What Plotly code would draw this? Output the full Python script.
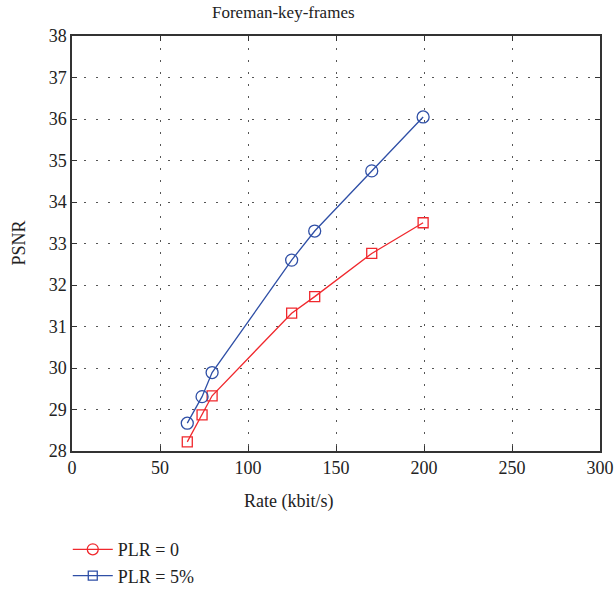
import plotly.graph_objects as go

# Rate-distortion data for the Foreman key frames
rate_plr0 = [65.5, 73.9, 79.6, 124.8, 137.9, 170.3, 199.5]
psnr_plr0 = [28.22, 28.87, 29.33, 31.32, 31.72, 32.76, 33.50]

rate_plr5 = [65.5, 73.9, 79.6, 124.8, 137.9, 170.3, 199.5]
psnr_plr5 = [28.67, 29.31, 29.89, 32.60, 33.30, 34.75, 36.05]

x_ticks = [0, 50, 100, 150, 200, 250, 300]
y_ticks = [28, 29, 30, 31, 32, 33, 34, 35, 36, 37, 38]

RED = "#f0282d"
BLUE = "#2f4fa6"
FONT = "Tinos, 'Times New Roman', 'Liberation Serif', 'Noto Serif', 'DejaVu Serif', serif"

fig = go.Figure()

fig.add_trace(go.Scatter(
    x=rate_plr0, y=psnr_plr0, mode="lines+markers", showlegend=False,
    line=dict(color=RED, width=1.3),
    marker=dict(symbol="square-open", size=10, color=RED, line=dict(width=1.3)),
))
fig.add_trace(go.Scatter(
    x=rate_plr5, y=psnr_plr5, mode="lines+markers", showlegend=False,
    line=dict(color=BLUE, width=1.3),
    marker=dict(symbol="circle-open", size=12, color=BLUE, line=dict(width=1.3)),
))

# Legend keys
fig.add_trace(go.Scatter(
    x=[None], y=[None], mode="lines+markers", name="PLR = 0",
    line=dict(color=RED, width=1.3),
    marker=dict(symbol="circle-open", size=11, color=RED, line=dict(width=1.3)),
))
fig.add_trace(go.Scatter(
    x=[None], y=[None], mode="lines+markers", name="PLR = 5%",
    line=dict(color=BLUE, width=1.3),
    marker=dict(symbol="square-open", size=9, color=BLUE, line=dict(width=1.3)),
))

axis_common = dict(
    showline=True, linecolor="#333333", linewidth=1.5, mirror="ticks",
    ticks="inside", ticklen=5, tickcolor="#333333", tickwidth=1,
    showgrid=True, gridcolor="#555555", gridwidth=1, griddash="2px,10px",
    zeroline=False,
    tickfont=dict(family=FONT, size=18, color="#222222"),
)

fig.update_xaxes(range=[0, 300], tickvals=x_ticks, **axis_common)
fig.update_yaxes(range=[28, 38], tickvals=y_ticks, **axis_common)

fig.update_layout(
    width=616, height=590,
    margin=dict(l=72, r=16, t=36, b=139, autoexpand=False),
    plot_bgcolor="white", paper_bgcolor="white",
    font=dict(family=FONT, size=17, color="#222222"),
    legend=dict(
        x=-0.008, xanchor="left", y=-0.193, yanchor="top",
        font=dict(family=FONT, size=18, color="#222222"),
        tracegroupgap=2, itemwidth=40,
    ),
    annotations=[
        dict(text="Foreman-key-frames", x=0.40, y=1.0, xref="paper", yref="paper",
             xanchor="center", yanchor="bottom", yshift=12, showarrow=False,
             font=dict(family=FONT, size=17, color="#222222")),
        dict(text="Rate (kbit/s)", x=0.41, y=0, xref="paper", yref="paper",
             xanchor="center", yanchor="top", yshift=-38, showarrow=False,
             font=dict(family=FONT, size=18, color="#222222")),
        dict(text="PSNR", x=0, y=0.5, xref="paper", yref="paper",
             xanchor="center", yanchor="middle", xshift=-54, textangle=-90,
             showarrow=False, font=dict(family=FONT, size=18, color="#222222")),
    ],
)

fig.write_html("out.html")
